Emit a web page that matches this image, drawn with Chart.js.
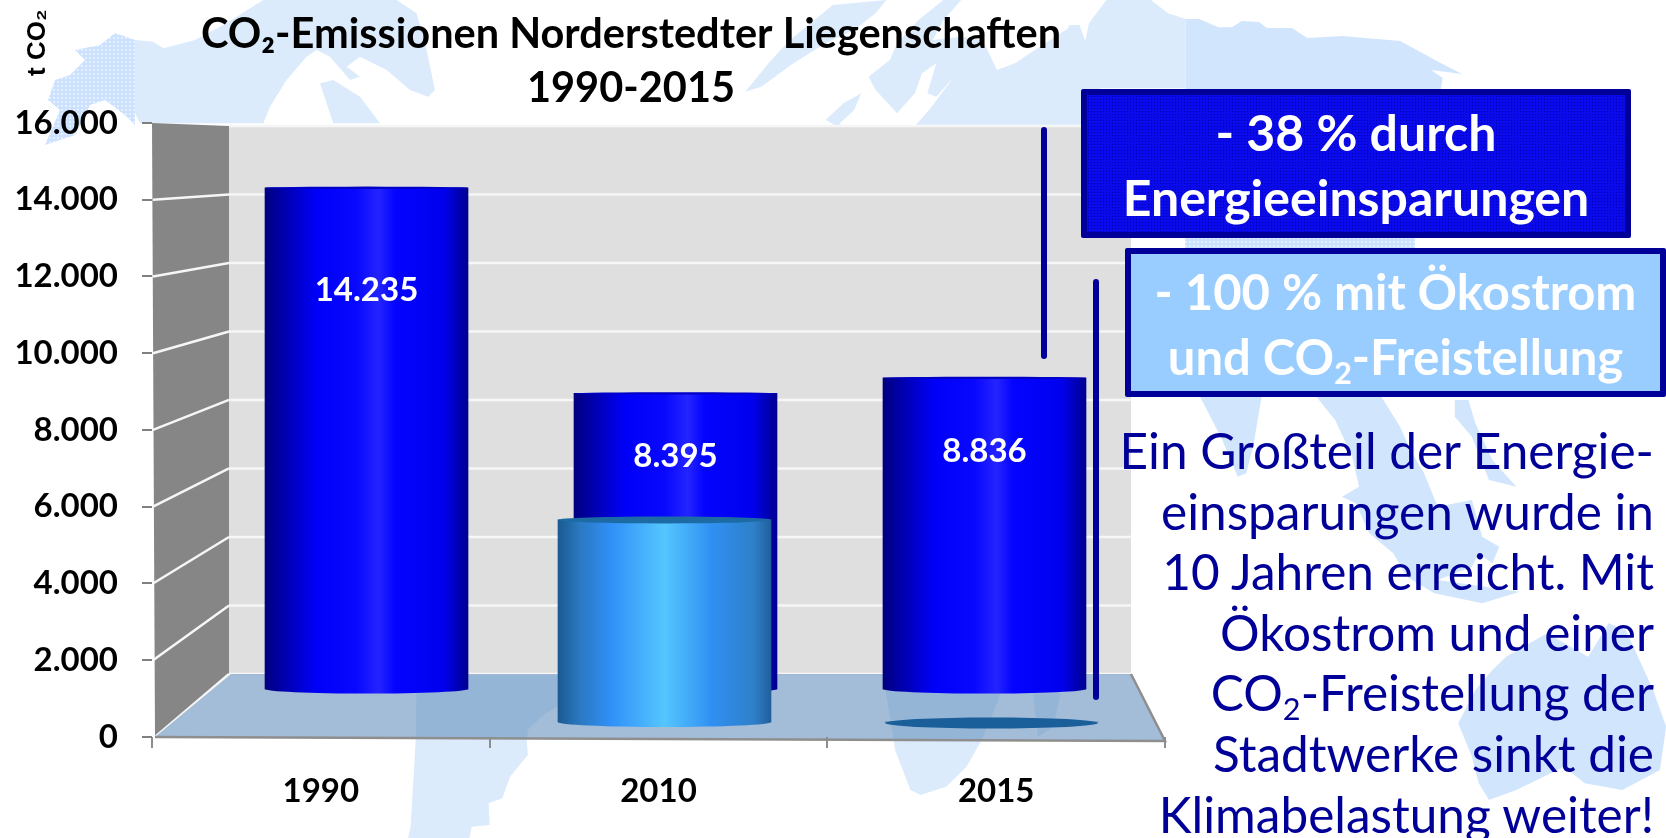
<!DOCTYPE html>
<html lang="de">
<head>
<meta charset="utf-8">
<title>CO2-Emissionen Norderstedter Liegenschaften</title>
<script src="https://cdn.jsdelivr.net/npm/chart.js@4"></script>
<style>
html,body{margin:0;padding:0;background:#fff;width:1666px;height:838px;overflow:hidden;font-family:Lato,sans-serif}
#map{position:absolute;left:0;top:0}
#wrap{position:absolute;left:0;top:0;width:1666px;height:838px}
.box{position:absolute;box-sizing:border-box;border:6px solid #000099;color:#fff;font-weight:700;font-size:50px;line-height:65px;text-align:center;white-space:nowrap;border-radius:2px}
#b1{left:1081px;top:89px;width:550px;height:149px;padding-top:5px;background-color:#0a0aea;background-image:radial-gradient(circle,#0000b4 .6px,transparent .9px);background-size:3px 3px}
#b2{left:1125px;top:248px;width:541px;height:149px;padding-top:5px;background:#99ccff;font-size:49px}
sub{font-size:62%;line-height:0;vertical-align:-0.28em}
.rule{position:absolute;width:5.5px;background:#000099;border-radius:3px}
#note{position:absolute;right:12px;top:420px;color:#000099;font-size:49.5px;line-height:60.6px;text-align:right;white-space:nowrap}
</style>
</head>
<body>
<svg id="map" width="1666" height="838" viewBox="0 0 1666 838">
<defs>
<pattern id="dots" width="4" height="4" patternUnits="userSpaceOnUse">
<rect width="4" height="4" fill="#cbe1fd"/><rect x="1" y="1" width="2" height="2" fill="#e6f1ff"/>
</pattern>
</defs>
<g fill="#dcebfc">
<g transform="translate(120 0) scale(.3333)">
<polygon points="45,120 100,125 130,145 225,120 300,80 350,50 430,0 830,0 890,40 920,150 945,270 925,290 870,270 800,210 720,170 680,200 720,230 690,240 630,170 590,150 560,170 500,240 450,320 430,370 60,370 45,340"/>
<polygon points="600,250 640,240 720,290 780,370 640,370"/>
</g>
<g transform="translate(540 0) scale(.357 .3333)">
<polygon points="575,275 640,190 700,120 780,50 820,15 970,0 940,40 880,90 800,130 710,190 620,260"/>
<polygon points="920,230 980,180 1000,130 1060,60 1130,0 1180,0 1130,60 1100,120 1180,110 1240,120 1280,210 1330,190 1400,140 1480,85 1510,75 1530,130 1568,50 1568,390 1040,390 1090,330 1160,230 1110,290 1085,280 1110,190 1070,220 1050,280 1000,340 940,270"/>
<polygon points="850,310 900,280 880,330 840,370 850,390 800,360"/>
</g>
<g transform="translate(1060 0) scale(.3865 .3333)">
<polygon points="24,75 50,75 65,125 75,70 120,0 235,0 280,40 325,57 325,265 0,265 0,150"/>
</g>
<g transform="translate(380 670) scale(.51 .3333)">
<polygon points="72,0 530,0 400,60 320,135 290,180 288,215 290,255 255,320 240,385 213,400 215,465 180,470 175,504 55,504 60,470 70,210"/>
<polygon points="985,0 1230,0 1210,100 1180,210 1150,290 1110,350 1060,375 1040,360 1010,240"/>
<polygon points="1280,70 1335,70 1320,170 1290,200"/>
</g>
</g>
<g fill="url(#dots)">
<polygon points="115,33 100,45 75,50 85,60 70,75 55,80 48,100 60,110 45,145 75,135 90,105 105,100 125,115 135,125 135,40"/>
<g transform="translate(1060 0) scale(.3865 .3333)">
<polygon points="325,57 360,57 410,82 445,82 470,63 515,66 535,84 600,84 640,114 730,108 880,123 980,186 1040,222 960,210 990,234 985,270 325,270"/>
</g>
<g transform="translate(1130 390) scale(.3419 .3333)">
<polygon points="205,20 385,20 360,170 340,250 315,260 270,150"/>
<polygon points="545,20 735,20 790,110 820,180 860,250 900,350 1000,330 1030,440 1080,470 1060,520 1020,490 1000,530 900,570 1140,605 1030,640 890,610 810,560 770,490 700,430 660,340 620,320 670,290 650,200 600,90"/>
<polygon points="950,30 990,30 1010,100 1060,210 1130,290 1050,270 1000,140 950,80"/>
<polygon points="1100,800 1220,730 1340,800 1400,700 1450,720 1530,900 1568,1010 1550,1140 1440,1200 1330,1180 1270,1130 1130,1200 1050,1230 1020,1180 1000,1100 960,1000 1010,900 1060,840"/>
</g>
<rect x="1185" y="238" width="230" height="10"/>
</g>
</svg>
<div id="wrap"><canvas id="c" width="1666" height="838"></canvas></div>
<div class="rule" style="left:1041px;top:127px;height:232px"></div>
<div class="rule" style="left:1093px;top:279px;height:421px"></div>
<div class="box" id="b1">- 38 % durch<br>Energieeinsparungen</div>
<div class="box" id="b2">- 100 % mit Ökostrom<br>und CO<sub>2</sub>-Freistellung</div>
<div id="note">Ein Großteil der Energie-<br>einsparungen wurde in<br>10 Jahren erreicht. Mit<br>Ökostrom und einer<br>CO<sub>2</sub>-Freistellung der<br>Stadtwerke sinkt die<br>Klimabelastung weiter!</div>
<script>
const categories = ['1990', '2010', '2015'];
const emissions = [14235, 8395, 8836];
const oekostrom = [null, 5740, 0];
const labelDrop = [103, 63, 73];
const yTickStep = 2000;
const yMax = 16000;
const titleLines = ['CO₂-Emissionen Norderstedter Liegenschaften', '1990-2015'];
const yAxisLabel = 't CO₂';

const fmt = v => v.toLocaleString('de-DE');
const BLUE = [[0,'#000080'],[.1,'#0000b0'],[.25,'#0000f8'],[.45,'#0808ff'],[.56,'#2424ff'],[.64,'#0404ff'],[.88,'#0000ee'],[1,'#000090']];
const SKY = [[0,'#1a5a90'],[.1,'#2a78c0'],[.25,'#3090f8'],[.5,'#55c6ff'],[.72,'#3090f2'],[.92,'#2e80c8'],[1,'#205f9c']];

function gradient(c, scaleId, width, stops){
  const scale = c.chart.scales[scaleId];
  const x = (scale && c.dataIndex !== undefined) ? scale.getPixelForValue(c.dataIndex) : NaN;
  if (!isFinite(x)) return stops[3][1];
  const g = c.chart.ctx.createLinearGradient(x - width/2, 0, x + width/2, 0);
  stops.forEach(s => g.addColorStop(s[0], s[1]));
  return g;
}

const stage = {
  id: 'stage',
  afterLayout(chart){
    chart.titleBlock.left = 97;
  },
  beforeDatasetsDraw(chart){
    const {ctx, scales:{y, yWall}} = chart;
    const wallL = 229, wallR = 1131, sideL = 152;
    const wTop = yWall.getPixelForValue(yMax), wBot = yWall.getPixelForValue(0);
    const fTop = y.getPixelForValue(yMax), fBot = y.getPixelForValue(0);
    ctx.save();
    ctx.fillStyle = '#dfdfdf';
    ctx.fillRect(wallL, wTop, wallR - wallL, wBot - wTop);
    ctx.fillStyle = '#868686';
    ctx.beginPath();
    ctx.moveTo(sideL, fTop); ctx.lineTo(wallL, wTop); ctx.lineTo(wallL, wBot); ctx.lineTo(sideL + 3, fBot);
    ctx.closePath(); ctx.fill();
    ctx.strokeStyle = '#f6f6f6'; ctx.lineWidth = 2.5;
    for (let v = 0; v <= yMax; v += yTickStep){
      const b = yWall.getPixelForValue(v), f = y.getPixelForValue(v);
      ctx.beginPath();
      if (v > 0 && v < yMax) { ctx.moveTo(sideL + 1, f); ctx.lineTo(wallL, b); }
      if (v === 0) { ctx.moveTo(sideL + 3, f); ctx.lineTo(wallL, b); }
      ctx.moveTo(wallL, b); ctx.lineTo(wallR, b);
      ctx.stroke();
    }
    ctx.fillStyle = 'rgba(102,145,190,.6)';
    ctx.beginPath();
    ctx.moveTo(wallL + 2, wBot); ctx.lineTo(wallR, wBot); ctx.lineTo(1165, fBot + 4); ctx.lineTo(sideL + 3, fBot);
    ctx.closePath(); ctx.fill();
    ctx.strokeStyle = '#8e8e8e'; ctx.lineWidth = 2.5;
    ctx.beginPath();
    ctx.moveTo(sideL + 3, fBot); ctx.lineTo(1165, fBot + 4); ctx.lineTo(wallR, wBot);
    ctx.stroke();
    ctx.restore();
  },
  afterDatasetDraw(chart, args){
    const {ctx} = chart;
    const near = args.meta.yAxisID === 'yNear';
    ctx.save();
    args.meta.data.forEach((el, i) => {
      const w = el.width, v = chart.data.datasets[args.index].data[i].y;
      if (v === null) return;
      if (v === 0){
        ctx.fillStyle = '#1a5e9a';
        ctx.beginPath(); ctx.ellipse(el.x, el.base + 1, w/2, 5.5, 0, 0, Math.PI*2); ctx.fill();
        return;
      }
      ctx.fillStyle = el.options.backgroundColor;
      ctx.beginPath(); ctx.ellipse(el.x, el.base, w/2, near ? 5 : 4.5, 0, 0, Math.PI*2); ctx.fill();
      ctx.fillStyle = near ? '#1d6ba5' : '#0000c8';
      ctx.beginPath(); ctx.ellipse(el.x, el.y, w/2, near ? 3.5 : 1.2, 0, 0, Math.PI*2); ctx.fill();
    });
    ctx.restore();
  },
  afterDatasetsDraw(chart){
    const {ctx} = chart;
    const meta = chart.getDatasetMeta(1);
    ctx.save();
    ctx.fillStyle = '#fff';
    ctx.font = '700 33px Lato';
    ctx.textAlign = 'center'; ctx.textBaseline = 'middle';
    meta.data.forEach((el, i) => ctx.fillText(fmt(emissions[i]), el.x, el.y + labelDrop[i]));
    ctx.restore();
    ctx.save();
    ctx.translate(38, 76);
    ctx.rotate(-Math.PI/2);
    ctx.fillStyle = '#000';
    ctx.font = '700 26px "Liberation Sans"';
    ctx.textAlign = 'left'; ctx.textBaseline = 'middle';
    ctx.fillText(yAxisLabel, 0, 0);
    ctx.restore();
  }
};

new Chart(document.getElementById('c'), {
  type: 'bar',
  plugins: [stage],
  data: {
    labels: categories,
    datasets: [
      { label: 'mit Ökostrom', xAxisID: 'xNear', yAxisID: 'yNear', grouped: false, barThickness: 213,
        data: oekostrom.map((v, i) => ({x: i, y: v})),
        backgroundColor: c => gradient(c, 'xNear', 213, SKY) },
      { label: 'CO₂-Emissionen', xAxisID: 'xBack', yAxisID: 'yBack', grouped: false, barThickness: 203,
        data: emissions.map((v, i) => ({x: i, y: v})),
        backgroundColor: c => gradient(c, 'xBack', 203, BLUE) }
    ]
  },
  options: {
    responsive: false,
    animation: false,
    events: [],
    layout: { padding: { left: 0, right: 501, top: 0, bottom: 0 } },
    plugins: {
      legend: { display: false },
      tooltip: { enabled: false },
      title: {
        display: true, text: titleLines, color: '#000',
        font: { family: 'Lato', size: 41.5, weight: '700', lineHeight: 1.3 },
        padding: { top: 8, bottom: 7 }
      }
    },
    scales: {
      x: {
        type: 'category', offset: true,
        grid: { offset: true, drawOnChartArea: false, color: '#8e8e8e', lineWidth: 2, tickLength: 11 },
        border: { display: false },
        ticks: { color: '#000', padding: 24, maxRotation: 0, font: { family: 'Lato', size: 33, weight: '700' } },
        afterFit: s => { s.height = 101; }
      },
      y: {
        min: 0, max: yMax,
        grid: { drawOnChartArea: false, color: '#808080', lineWidth: 2, tickLength: 10 },
        border: { display: false },
        ticks: { stepSize: yTickStep, color: '#000', padding: 24, callback: fmt, font: { family: 'Lato', size: 33, weight: '700' } },
        afterFit: s => { s.width = 152; }
      },
      yWall: { display: false, min: -1839, max: 16088 },
      yBack: { display: false, min: -1364, max: 16079 },
      yNear: { display: false, min: -426, max: 17017 },
      xBack: { type: 'linear', display: false, offset: false, min: -0.6942, max: 2.5842 },
      xNear: { type: 'linear', display: false, offset: false, min: -0.5673, max: 2.5306 }
    }
  }
});
</script>
</body>
</html>
